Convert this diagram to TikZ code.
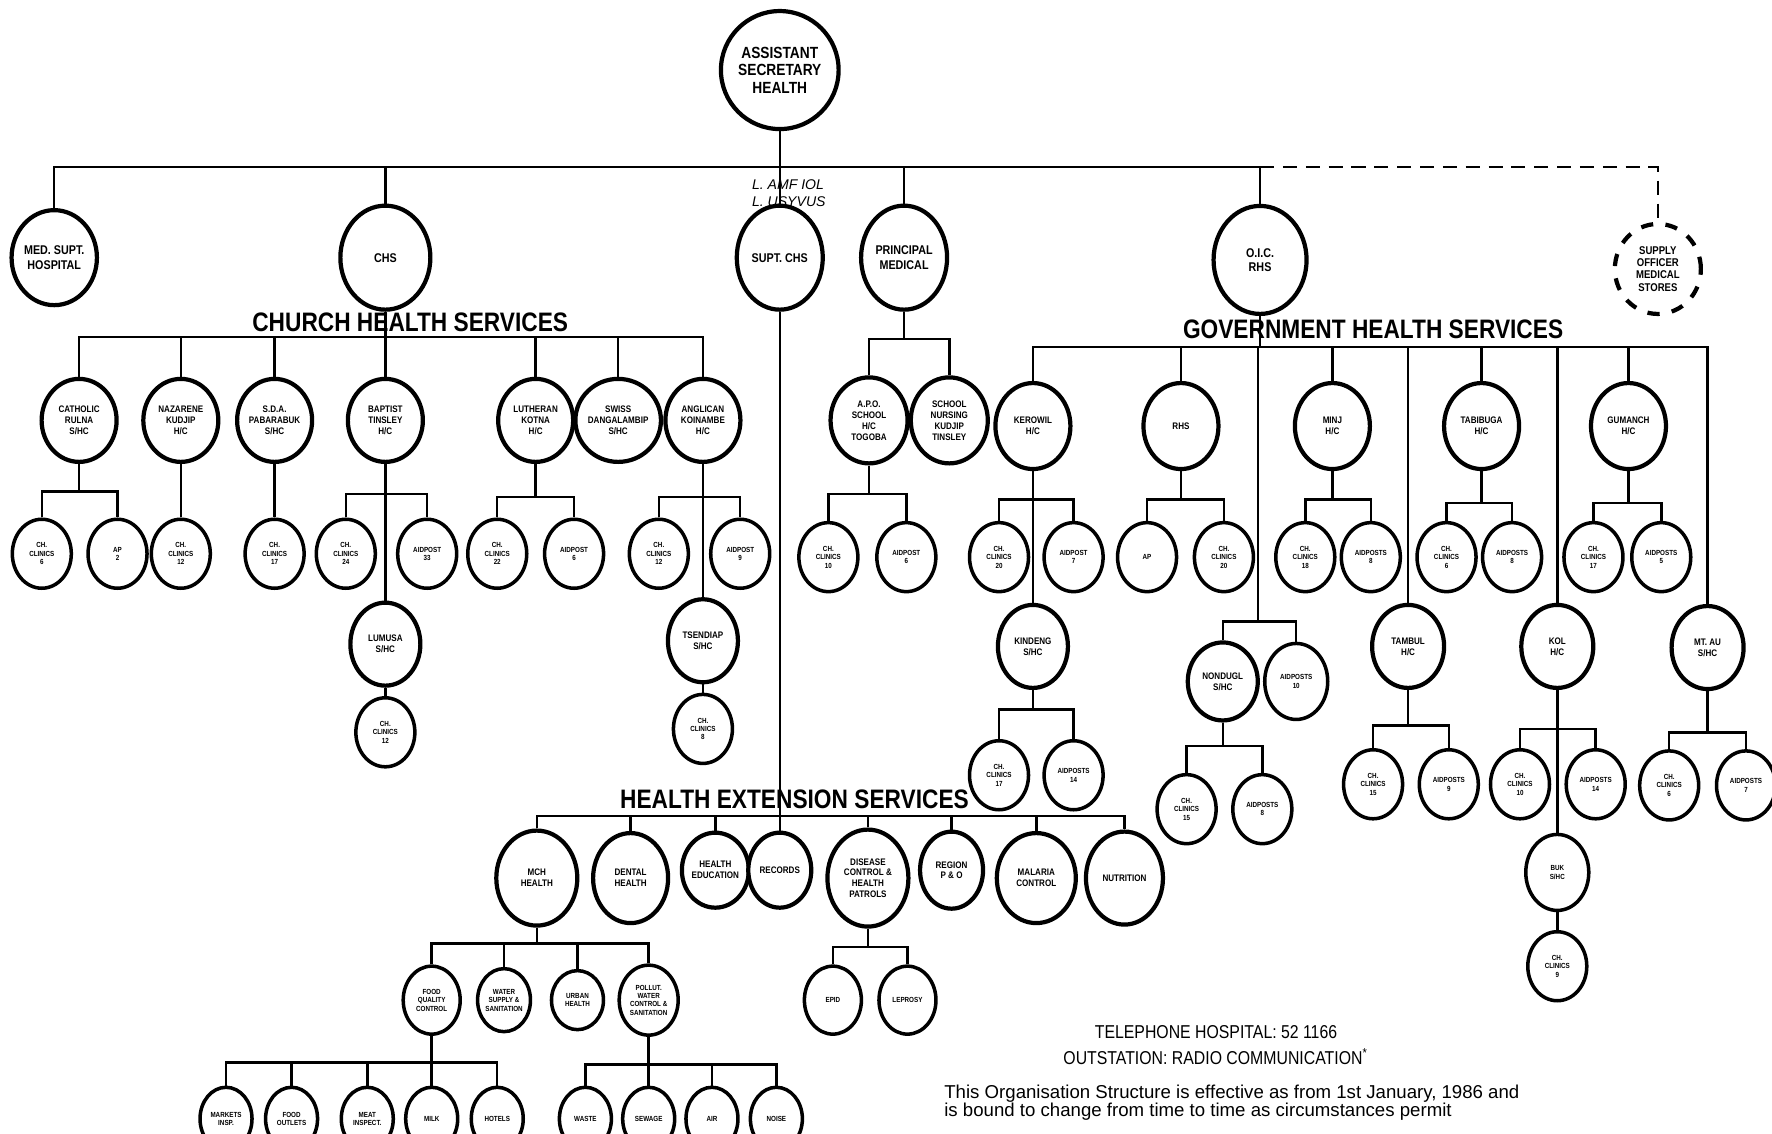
\documentclass[tikz,border=0pt]{standalone}
\usepackage{fontspec}
\setmainfont{Liberation Sans}
\newfontfamily\cond{Liberation Sans}[FakeStretch=0.85]
\usetikzlibrary{shapes.geometric}

\begin{document}
\begin{tikzpicture}[x=0.113mm, y=-0.113mm,
    every node/.style={align=center},
    org/.style={ellipse, draw, line width=1.2pt, fill=white, inner sep=0pt},
    top/.style={org, minimum width=11.3mm, minimum height=11.8mm, font=\cond\bfseries\fontsize{4.6}{5}\selectfont},
    chief/.style={org, minimum width=8.6mm, minimum height=10.4mm, font=\cond\bfseries\fontsize{3.6}{4}\selectfont},
    unit/.style={org, minimum width=7.5mm, minimum height=8.3mm, font=\cond\bfseries\fontsize{2.7}{3.1}\selectfont},
    post/.style={org, line width=1pt, minimum width=5.9mm, minimum height=6.9mm, font=\cond\bfseries\fontsize{2.1}{2.4}\selectfont},
    link/.style={line width=0.7pt},
    heading/.style={font=\cond\bfseries\fontsize{7.6}{9}\selectfont},
    note/.style={font=\cond\fontsize{5.3}{6.2}\selectfont}]
    \useasboundingbox (0,0) rectangle (1568,1003);
    \fill[white] (0,0) rectangle (1568,1003);

    \node[top] (ash) at (690,62) {ASSISTANT\\SECRETARY\\HEALTH};
    \node[chief, minimum width=7.7mm, minimum height=9.5mm] (hosp) at (48,228) {MED. SUPT.\\HOSPITAL};
    \node[chief, minimum width=9mm] (chs) at (341,228) {CHS};
    \node[chief] (supt) at (690,228) {SUPT. CHS};
    \node[chief] (pmed) at (800,228) {PRINCIPAL\\MEDICAL};
    \node[chief, minimum width=9.3mm, minimum height=10.8mm] (oic) at (1115,230) {O.I.C.\\RHS};
    \node[chief, dash pattern=on 3.5pt off 3.5pt, minimum height=9mm, font=\cond\bfseries\fontsize{3.2}{3.5}\selectfont] (supply) at (1467,238) {SUPPLY\\OFFICER\\MEDICAL\\STORES};
    \node[font=\fontsize{4}{4.8}\selectfont\itshape, align=left] (scrib) at (698,171) {L. AMF IOL\\L. USYVUS};

    \node[heading] (chead) at (363,285) {CHURCH HEALTH SERVICES};
    \node[heading] (ghead) at (1215,291) {GOVERNMENT HEALTH SERVICES};
    \node[heading] (hhead) at (703,707) {HEALTH EXTENSION SERVICES};

    % church units
    \node[unit] (cath) at (70,372) {CATHOLIC\\RULNA\\S/HC};
    \node[unit] (naz) at (160,372) {NAZARENE\\KUDJIP\\H/C};
    \node[unit] (sda) at (243,372) {S.D.A.\\PABARABUK\\S/HC};
    \node[unit] (bapt) at (341,372) {BAPTIST\\TINSLEY\\H/C};
    \node[unit] (luth) at (474,372) {LUTHERAN\\KOTNA\\H/C};
    \node[unit] (swiss) at (547,372) {SWISS\\DANGALAMBIP\\S/HC};
    \node[unit] (angl) at (622,372) {ANGLICAN\\KOINAMBE\\H/C};
    \node[post] (cath1) at (37,490) {CH.\\CLINICS\\6};
    \node[post] (cath2) at (104,490) {AP\\2};
    \node[post] (naz1) at (160,490) {CH.\\CLINICS\\12};
    \node[post] (sda1) at (243,490) {CH.\\CLINICS\\17};
    \node[post] (bapt1) at (306,490) {CH.\\CLINICS\\24};
    \node[post] (bapt2) at (378,490) {AIDPOST\\33};
    \node[post] (luth1) at (440,490) {CH.\\CLINICS\\22};
    \node[post] (luth2) at (508,490) {AIDPOST\\6};
    \node[post] (angl1) at (583,490) {CH.\\CLINICS\\12};
    \node[post] (angl2) at (655,490) {AIDPOST\\9};
    \node[unit, minimum width=7mm] (lum) at (341,570) {LUMUSA\\S/HC};
    \node[post] (lum1) at (341,648) {CH.\\CLINICS\\12};
    \node[unit, minimum width=7mm] (tsen) at (622,567) {TSENDIAP\\S/HC};
    \node[post] (tsen1) at (622,645) {CH.\\CLINICS\\8};

    % principal medical
    \node[unit, minimum width=7.7mm, minimum height=8.6mm] (apo) at (769,372) {A.P.O.\\SCHOOL\\H/C\\TOGOBA};
    \node[unit, minimum width=7.7mm, minimum height=8.6mm] (son) at (840,372) {SCHOOL\\NURSING\\KUDJIP\\TINSLEY};
    \node[post] (apo1) at (733,493) {CH.\\CLINICS\\10};
    \node[post] (apo2) at (802,493) {AIDPOST\\6};

    % government units
    \node[unit, minimum height=8.6mm] (ker) at (914,377) {KEROWIL\\H/C};
    \node[unit, minimum height=8.6mm] (phs) at (1045,377) {RHS};
    \node[unit, minimum height=8.6mm] (minj) at (1179,377) {MINJ\\H/C};
    \node[unit, minimum height=8.6mm] (tabi) at (1311,377) {TABIBUGA\\H/C};
    \node[unit, minimum height=8.6mm] (gum) at (1441,377) {GUMANCH\\H/C};
    \node[post] (ker1) at (884,493) {CH.\\CLINICS\\20};
    \node[post] (ker2) at (950,493) {AIDPOST\\7};
    \node[post] (phs1) at (1015,493) {AP};
    \node[post] (phs2) at (1083,493) {CH.\\CLINICS\\20};
    \node[post] (minj1) at (1155,493) {CH.\\CLINICS\\18};
    \node[post] (minj2) at (1213,493) {AIDPOSTS\\8};
    \node[post] (tabi1) at (1280,493) {CH.\\CLINICS\\6};
    \node[post] (tabi2) at (1338,493) {AIDPOSTS\\8};
    \node[post] (gum1) at (1410,493) {CH.\\CLINICS\\17};
    \node[post] (gum2) at (1470,493) {AIDPOSTS\\5};
    \node[unit, minimum width=7mm] (kin) at (914,572) {KINDENG\\S/HC};
    \node[unit, minimum width=7.2mm] (tamb) at (1246,572) {TAMBUL\\H/C};
    \node[unit, minimum width=7.2mm] (kol) at (1378,572) {KOL\\H/C};
    \node[unit, minimum width=7.2mm] (mtau) at (1511,573) {MT. AU\\S/HC};
    \node[unit, minimum width=7mm, minimum height=7.8mm] (nond) at (1082,603) {NONDUGL\\S/HC};
    \node[post, minimum width=6.3mm, minimum height=7.6mm] (nond2) at (1147,603) {AIDPOSTS\\10};
    \node[post] (kin1) at (884,686) {CH.\\CLINICS\\17};
    \node[post] (kin2) at (950,686) {AIDPOSTS\\14};
    \node[post] (nond1) at (1050,716) {CH.\\CLINICS\\15};
    \node[post] (nond3) at (1117,716) {AIDPOSTS\\8};
    \node[post] (tamb1) at (1215,694) {CH.\\CLINICS\\15};
    \node[post] (tamb2) at (1282,694) {AIDPOSTS\\9};
    \node[post] (kol1) at (1345,694) {CH.\\CLINICS\\10};
    \node[post] (kol2) at (1412,694) {AIDPOSTS\\14};
    \node[post] (mtau1) at (1477,695) {CH.\\CLINICS\\6};
    \node[post] (mtau2) at (1545,695) {AIDPOSTS\\7};
    \node[post, minimum width=6.3mm, minimum height=7.6mm] (buk) at (1378,772) {BUK\\S/HC};
    \node[post] (buk1) at (1378,855) {CH.\\CLINICS\\9};

    % health extension
    \node[unit, minimum width=8.1mm, minimum height=9.5mm] (mch) at (475,777) {MCH\\HEALTH};
    \node[unit, minimum width=7.5mm, minimum height=9mm] (dent) at (558,777) {DENTAL\\HEALTH};
    \node[unit, minimum width=6.3mm, minimum height=7.5mm] (hedu) at (633,770) {HEALTH\\EDUCATION};
    \node[unit, minimum width=6.3mm, minimum height=7.5mm] (surv) at (690,770) {RECORDS};
    \node[unit, minimum width=8.1mm, minimum height=9.7mm] (dis) at (768,777) {DISEASE\\CONTROL \&\\HEALTH\\PATROLS};
    \node[unit, minimum width=6.3mm, minimum height=7.7mm] (pao) at (842,770) {REGION\\P \& O};
    \node[unit, minimum width=7.9mm, minimum height=9mm] (mal) at (917,777) {MALARIA\\CONTROL};
    \node[unit, minimum width=7.7mm, minimum height=9.3mm] (nut) at (995,777) {NUTRITION};
    \node[post, minimum width=5.7mm, minimum height=6.8mm] (food) at (382,885) {FOOD\\QUALITY\\CONTROL};
    \node[post, minimum width=5.2mm, minimum height=6.3mm] (water) at (446,885) {WATER\\SUPPLY \&\\SANITATION};
    \node[post, minimum width=5.2mm, minimum height=5.9mm] (urban) at (511,885) {URBAN\\HEALTH};
    \node[post, minimum width=5.9mm, minimum height=7mm] (poll) at (574,885) {POLLUT.\\WATER\\CONTROL \&\\SANITATION};
    \node[post, minimum width=5.7mm, minimum height=6.8mm] (epid) at (737,885) {EPID};
    \node[post, minimum width=5.7mm, minimum height=6.8mm] (lep) at (803,885) {LEPROSY};
    \node[post, minimum width=5.2mm, minimum height=6.3mm] (f1) at (200,990) {MARKETS\\INSP.};
    \node[post, minimum width=5.2mm, minimum height=6.3mm] (f2) at (258,990) {FOOD\\OUTLETS};
    \node[post, minimum width=5.2mm, minimum height=6.3mm] (f3) at (325,990) {MEAT\\INSPECT.};
    \node[post, minimum width=5.2mm, minimum height=6.3mm] (f4) at (382,990) {MILK};
    \node[post, minimum width=5.2mm, minimum height=6.3mm] (f5) at (440,990) {HOTELS};
    \node[post, minimum width=5.2mm, minimum height=6.3mm] (p1) at (518,990) {WASTE};
    \node[post, minimum width=5.2mm, minimum height=6.3mm] (p2) at (574,990) {SEWAGE};
    \node[post, minimum width=5.2mm, minimum height=6.3mm] (p3) at (630,990) {AIR};
    \node[post, minimum width=5.2mm, minimum height=6.3mm] (p4) at (687,990) {NOISE};

    \node[note] (tel) at (1076,913) {TELEPHONE HOSPITAL: 52 1166};
    \node[note] (radio) at (1076,935) {OUTSTATION: RADIO COMMUNICATION\textsuperscript{*}};
    \node[anchor=west, inner sep=0pt, font=\fontsize{5.3}{6.2}\selectfont] (eff1) at (835,968) {This Organisation Structure is effective as from 1st January, 1986 and};
    \node[anchor=west, inner sep=0pt, font=\fontsize{5.3}{6.2}\selectfont] (eff2) at (835,984) {is bound to change from time to time as circumstances permit};

    % main bar
    \coordinate (mainbar) at (0,148);
    \draw[link] (ash) -- (supt);
    \draw[link] (hosp.north) |- (oic.north |- mainbar) -- (oic.north);
    \foreach \n in {chs,pmed} \draw[link] (\n.north) -- (\n.north |- mainbar);
    \draw[link, dash pattern=on 4pt off 2.5pt] (oic.north |- mainbar) -| (supply.north);

    % church
    \coordinate (chbar) at (0,298);
    \draw[link] (chs) -- (bapt);
    \draw[link] (cath.north) |- (angl.north |- chbar) -- (angl.north);
    \foreach \n in {naz,sda,luth,swiss} \draw[link] (\n.north) -- (\n.north |- chbar);
    \foreach \n/\y in {cath/435,bapt/437,luth/440,angl/440} {
        \coordinate (b) at (0,\y);
        \draw[link] (\n.south) -- (\n.south |- b);
        \draw[link] (\n1.north) |- (\n2.north |- b) -- (\n2.north);
    }
    \draw[link] (naz) -- (naz1);
    \draw[link] (sda) -- (sda1);
    \draw[link] (bapt) -- (lum);
    \draw[link] (lum) -- (lum1);
    \draw[link] (angl) -- (tsen);
    \draw[link] (tsen) -- (tsen1);

    % principal medical
    \coordinate (pmbar) at (0,300);
    \draw[link] (pmed.south) -- (pmed.south |- pmbar);
    \draw[link] (apo.north) |- (son.north |- pmbar) -- (son.north);
    \coordinate (apobar) at (0,437);
    \draw[link] (apo.south) -- (apo.south |- apobar);
    \draw[link] (apo1.north) |- (apo2.north |- apobar) -- (apo2.north);

    % government
    \coordinate (gbar) at (0,307);
    \coordinate (ntop) at (1113,307);
    \draw[link] (oic) -- (oic.south |- gbar);
    \draw[link] (ker.north) |- (mtau.north |- gbar) -- (mtau.north);
    \foreach \n in {phs,minj,tamb,tabi,kol,gum} \draw[link] (\n.north) -- (\n.north |- gbar);
    \foreach \n/\y in {ker/442,phs/442,minj/442,tabi/445,gum/445,kin/628,tamb/642,kol/645,mtau/648} {
        \coordinate (b) at (0,\y);
        \draw[link] (\n.south) -- (\n.south |- b);
        \draw[link] (\n1.north) |- (\n2.north |- b) -- (\n2.north);
    }
    \draw[link] (ker) -- (kin);
    \draw[link] (kol) -- (buk);
    \draw[link] (buk) -- (buk1);
    \coordinate (nbar) at (0,550);
    \draw[link] (ntop) -- (ntop |- nbar);
    \draw[link] (nond.north) |- (nond2.north |- nbar) -- (nond2.north);
    \coordinate (n2bar) at (0,660);
    \draw[link] (nond.south) -- (nond.south |- n2bar);
    \draw[link] (nond1.north) |- (nond3.north |- n2bar) -- (nond3.north);

    % health extension
    \coordinate (hbar) at (0,722);
    \draw[link] (supt) -- (surv);
    \draw[link] (mch.north) |- (nut.north |- hbar) -- (nut.north);
    \foreach \n in {dent,hedu,dis,pao,mal} \draw[link] (\n.north) -- (\n.north |- hbar);
    \coordinate (mbar) at (0,835);
    \draw[link] (mch.south) -- (mch.south |- mbar);
    \draw[link] (food.north) |- (poll.north |- mbar) -- (poll.north);
    \foreach \n in {water,urban} \draw[link] (\n.north) -- (\n.north |- mbar);
    \coordinate (dbar) at (0,838);
    \draw[link] (dis.south) -- (dis.south |- dbar);
    \draw[link] (epid.north) |- (lep.north |- dbar) -- (lep.north);
    \coordinate (fbar) at (0,940);
    \draw[link] (food) -- (f4);
    \draw[link] (f1.north) |- (f5.north |- fbar) -- (f5.north);
    \foreach \n in {f2,f3} \draw[link] (\n.north) -- (\n.north |- fbar);
    \coordinate (plbar) at (0,942);
    \draw[link] (poll) -- (p2);
    \draw[link] (p1.north) |- (p4.north |- plbar) -- (p4.north);
    \draw[link] (p3.north) -- (p3.north |- plbar);
\end{tikzpicture}
\end{document}
